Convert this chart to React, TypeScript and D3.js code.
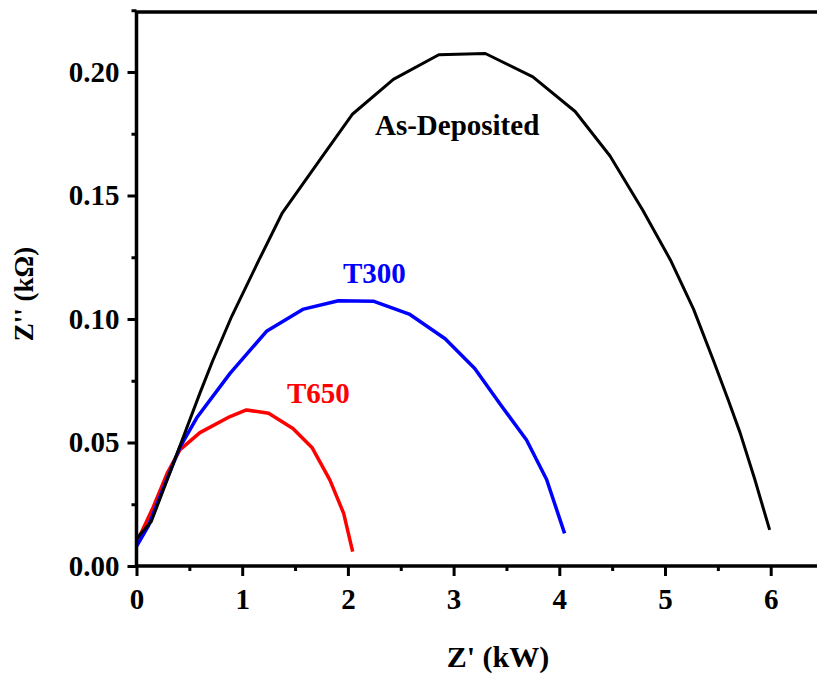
import React, { useEffect, useRef } from "react";
import * as d3 from "d3";

// Nyquist data: Z' (kW) and Z'' (kΩ)
const asDepositedX = [0, 0.14, 0.3, 0.45, 0.6, 0.72, 0.9, 1.16, 1.38, 1.745, 2.045, 2.43, 2.86, 3.3, 3.75, 4.15, 4.48, 4.79, 5.05, 5.27, 5.46, 5.6, 5.71, 5.85, 5.99];
const asDepositedY = [0.011, 0.018, 0.036, 0.053, 0.07, 0.083, 0.101, 0.124, 0.143, 0.165, 0.183, 0.197, 0.207, 0.2075, 0.198, 0.184, 0.166, 0.144, 0.124, 0.104, 0.083, 0.067, 0.054, 0.035, 0.0146];

const t300X = [0, 0.11, 0.25, 0.41, 0.57, 0.885, 1.23, 1.58, 1.91, 2.24, 2.58, 2.92, 3.2, 3.45, 3.69, 3.88, 4.05];
const t300Y = [0.008, 0.016, 0.031, 0.048, 0.06, 0.078, 0.095, 0.104, 0.1074, 0.1072, 0.102, 0.092, 0.08, 0.065, 0.051, 0.035, 0.0132];

const t650X = [0, 0.16, 0.29, 0.41, 0.6, 0.885, 1.04, 1.25, 1.48, 1.66, 1.83, 1.96, 2.045];
const t650Y = [0.0093, 0.024, 0.0375, 0.047, 0.054, 0.0605, 0.0632, 0.0618, 0.0557, 0.048, 0.0348, 0.0213, 0.0058];

const seriesNames = ["As-Deposited", "T300", "T650"];
const seriesColors = ["#000000", "#0000ff", "#ff0000"];
const seriesWidths = [3, 3.5, 3.5];
// label anchor (data coords, start of text baseline)
const labelX = [2.256, 1.954, 1.424];
const labelY = [0.1745, 0.1146, 0.066];

const xTicks = [0, 1, 2, 3, 4, 5, 6];
const yTicks = [0, 0.05, 0.1, 0.15, 0.2];

const WIDTH = 817;
const HEIGHT = 677;
const FONT = "'Liberation Serif', 'Times New Roman', serif";

export default function App() {
  const ref = useRef<SVGSVGElement>(null);

  useEffect(() => {
    const svg = d3.select(ref.current);
    svg.selectAll("*").remove();

    const left = 136.5;
    const right = 817;
    const top = 12;
    const bottom = 566;
    const pxPerUnit = 105.7;

    const x = d3.scaleLinear().domain([0, (right - left) / pxPerUnit]).range([left, right]);
    const y = d3.scaleLinear().domain([0, (bottom - top) / 2470]).range([bottom, top]);

    const series = [
      asDepositedX.map((v, i) => [v, asDepositedY[i]]),
      t300X.map((v, i) => [v, t300Y[i]]),
      t650X.map((v, i) => [v, t650Y[i]]),
    ];

    const line = d3
      .line<number[]>()
      .x((d) => x(d[0]))
      .y((d) => y(d[1]));

    // draw red first so black/blue sit on top like the original
    [2, 1, 0].forEach((i) => {
      svg
        .append("path")
        .attr("d", line(series[i]))
        .attr("fill", "none")
        .attr("stroke", seriesColors[i])
        .attr("stroke-width", seriesWidths[i])
        .attr("stroke-linejoin", "round");
    });

    svg
      .selectAll("text.label")
      .data(seriesNames)
      .join("text")
      .attr("class", "label")
      .attr("x", (_, i) => x(labelX[i]))
      .attr("y", (_, i) => y(labelY[i]))
      .attr("fill", (_, i) => seriesColors[i])
      .style("font-family", FONT)
      .style("font-weight", "bold")
      .style("font-size", "29px")
      .text((d) => d);

    // axes
    const xAxis = d3
      .axisBottom(x)
      .tickValues(xTicks)
      .tickFormat((d) => String(d))
      .tickSize(10)
      .tickPadding(12);
    const xMinor = d3.axisBottom(x).tickValues(xTicks.map((t) => t + 0.5)).tickSize(5).tickFormat(() => "");

    const yAxis = d3
      .axisLeft(y)
      .tickValues(yTicks)
      .tickFormat(d3.format(".2f"))
      .tickSize(9)
      .tickPadding(8);
    const yMinor = d3.axisLeft(y).tickValues(yTicks.map((t) => t + 0.025)).tickSize(5).tickFormat(() => "");

    const styleAxis = (g: any) => {
      g.select(".domain").remove();
      g.selectAll("line").attr("stroke", "#000").attr("stroke-width", 3);
      g.selectAll("text")
        .attr("fill", "#000")
        .style("font-family", FONT)
        .style("font-weight", "bold")
        .style("font-size", "29px");
    };

    svg.append("g").attr("transform", `translate(0,${bottom})`).call(xAxis).call(styleAxis);
    svg.append("g").attr("transform", `translate(0,${bottom})`).call(xMinor).call(styleAxis);
    svg.append("g").attr("transform", `translate(${left},0)`).call(yAxis).call(styleAxis);
    svg.append("g").attr("transform", `translate(${left},0)`).call(yMinor).call(styleAxis);

    // frame: left, bottom and top lines (right edge is cut off)
    svg
      .append("path")
      .attr("d", `M${right},${top}H${left}V${bottom}H${right}`)
      .attr("fill", "none")
      .attr("stroke", "#000")
      .attr("stroke-width", 3.5);

    svg
      .append("text")
      .attr("x", 498)
      .attr("y", 667)
      .attr("text-anchor", "middle")
      .style("font-family", FONT)
      .style("font-weight", "bold")
      .style("font-size", "30px")
      .text("Z' (kW)");

    svg
      .append("text")
      .attr("transform", `translate(33,294) rotate(-90)`)
      .attr("text-anchor", "middle")
      .style("font-family", FONT)
      .style("font-weight", "bold")
      .style("font-size", "27px")
      .text("Z'' (kΩ)");
  }, []);

  return (
    <svg
      ref={ref}
      width={WIDTH}
      height={HEIGHT}
      style={{ position: "absolute", left: 0, top: 0, background: "#fff" }}
    />
  );
}
